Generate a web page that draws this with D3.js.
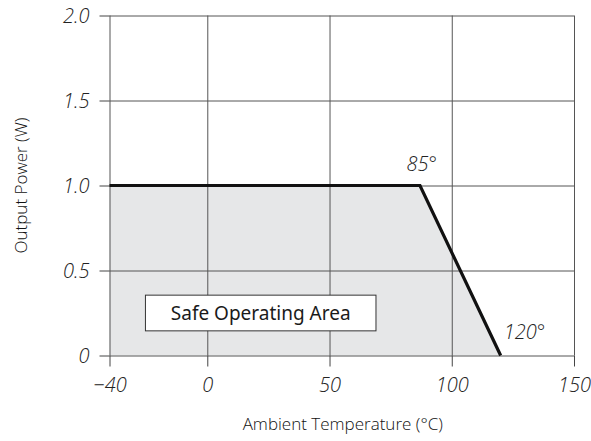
<!DOCTYPE html>
<html><head><meta charset="utf-8">
<script src="https://cdn.jsdelivr.net/npm/d3@7"></script>
<style>body{margin:0;background:#fff}</style>
</head><body>
<svg id="c" width="591" height="441"></svg>
<script>
const xTicks = [-40, 0, 50, 100, 150];
const yTicks = [0, 0.5, 1.0, 1.5, 2.0];
const yTickLabels = ["0", "0.5", "1.0", "1.5", "2.0"];
const xTickLabels = ["\u221240", "0", "50", "100", "150"];
const deratingTemp = [-40, 87, 120];
const deratingPower = [1.0, 1.0, 0];
const annotations = [{t: 87, p: 1.0, text: "85\u00b0"}, {t: 120, p: 0, text: "120\u00b0"}];

const svg = d3.select("#c");
const x = d3.scaleLinear().domain([-40, 150]).range([109.5, 574]);
const y = d3.scaleLinear().domain([0, 2]).range([355.5, 15.5]);
const data = deratingTemp.map((t, i) => ({t, p: deratingPower[i]}));

svg.append("path").datum(data)
  .attr("d", d3.area().x(d => x(d.t)).y0(y(0)).y1(d => y(d.p)))
  .attr("fill", "#e6e7e8");

const gx = svg.append("g").attr("transform", `translate(0,${y(0)})`)
  .call(d3.axisBottom(x).tickValues(xTicks).tickSize(-(y(0) - y(2))).tickFormat(""));
gx.select(".domain").remove();
gx.selectAll("line").attr("stroke", "#555").attr("stroke-width", 1);
const gy = svg.append("g").attr("transform", `translate(${x(-40)},0)`)
  .call(d3.axisLeft(y).tickValues(yTicks).tickSize(-(x(150) - x(-40))).tickFormat(""));
gy.select(".domain").remove();
gy.selectAll("line").attr("stroke", "#555").attr("stroke-width", 1);

const ax = svg.append("g").attr("transform", `translate(0,${y(0)})`)
  .call(d3.axisBottom(x).tickValues(xTicks).tickSize(11).tickPadding(10)
    .tickFormat((d, i) => xTickLabels[i]));
ax.select(".domain").remove();
ax.selectAll("line").attr("stroke", "#444");
ax.selectAll("text").attr("font-family", "Open Sans").attr("font-style", "italic")
  .attr("font-weight", 300).attr("font-size", 20).attr("fill", "#222").attr("dy", "0.75em");

const ay = svg.append("g").attr("transform", `translate(${x(-40)},0)`)
  .call(d3.axisLeft(y).tickValues(yTicks).tickSize(10).tickPadding(10)
    .tickFormat((d, i) => yTickLabels[i]));
ay.select(".domain").remove();
ay.selectAll("line").attr("stroke", "#444");
ay.selectAll("text").attr("font-family", "Open Sans").attr("font-style", "italic")
  .attr("font-weight", 300).attr("font-size", 20).attr("fill", "#222").attr("dy", "0.35em");

svg.append("path").datum(data)
  .attr("d", d3.line().x(d => x(d.t)).y(d => y(d.p)))
  .attr("fill", "none").attr("stroke", "#111").attr("stroke-width", 3.2)
  .attr("stroke-linejoin", "miter");

svg.append("text").attr("x", x(annotations[0].t) + 17).attr("y", y(annotations[0].p) - 15)
  .attr("text-anchor", "end").text(annotations[0].text)
  .attr("font-family", "Open Sans").attr("font-style", "italic").attr("font-weight", 300)
  .attr("font-size", 20).attr("fill", "#222");
svg.append("text").attr("x", x(annotations[1].t) + 3).attr("y", y(annotations[1].p) - 17)
  .attr("text-anchor", "start").text(annotations[1].text)
  .attr("font-family", "Open Sans").attr("font-style", "italic").attr("font-weight", 300)
  .attr("font-size", 20).attr("fill", "#222");

const bx0 = x(-25.3), bx1 = x(69), by0 = y(0.355), by1 = y(0.145);
svg.append("rect").attr("x", bx0).attr("y", by0).attr("width", bx1 - bx0).attr("height", by1 - by0)
  .attr("fill", "#fff").attr("stroke", "#333").attr("stroke-width", 1);
svg.append("text").attr("x", (bx0 + bx1) / 2).attr("y", (by0 + by1) / 2)
  .attr("dy", "0.36em").attr("text-anchor", "middle").text("Safe Operating Area")
  .attr("font-family", "Noto Sans").attr("font-size", 19).attr("fill", "#1a1a1a");

svg.append("text").attr("x", (x(-40) + x(150)) / 2 + 1).attr("y", 430)
  .attr("text-anchor", "middle").text("Ambient Temperature (\u00b0C)")
  .attr("font-family", "Open Sans").attr("font-weight", 300).attr("font-size", 17).attr("fill", "#111");
svg.append("text").attr("transform", `translate(27,${y(1)}) rotate(-90)`)
  .attr("text-anchor", "middle").text("Output Power (W)")
  .attr("font-family", "Open Sans").attr("font-weight", 300).attr("font-size", 17).attr("fill", "#111");
</script>
</body></html>
